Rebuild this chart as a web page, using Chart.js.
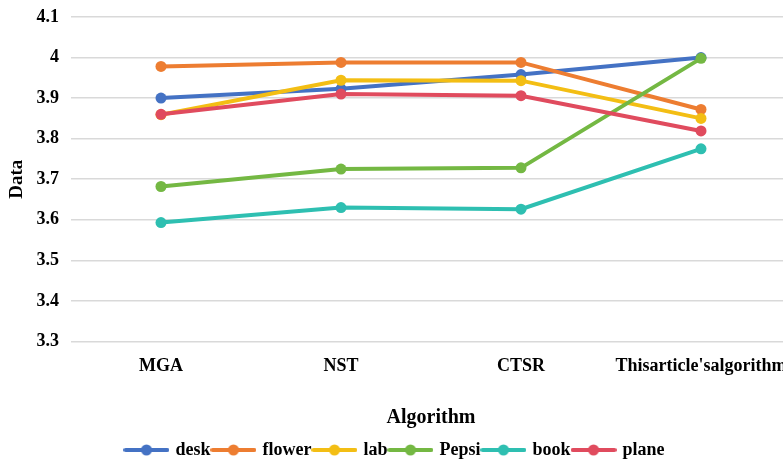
<!DOCTYPE html>
<html>
<head>
<meta charset="utf-8">
<script src="https://cdn.jsdelivr.net/npm/chart.js@4.4.0/dist/chart.umd.min.js"></script>
<style>
  html, body { margin: 0; padding: 0; background: #fff; overflow: hidden; }
  #wrap { width: 800px; height: 461px; }
</style>
</head>
<body>
<div id="wrap"><canvas id="lineChart"></canvas></div>
<script>
// categories and series
const algorithms = ['MGA', 'NST', 'CTSR', "Thisarticle'salgorithm"];
const seriesNames = ['desk', 'flower', 'lab', 'Pepsi', 'book', 'plane'];
const desk   = [3.900, 3.923, 3.958, 4.000];
const flower = [3.978, 3.988, 3.988, 3.872];
const lab    = [3.859, 3.944, 3.943, 3.850];
const pepsi  = [3.682, 3.725, 3.728, 3.998];
const book   = [3.593, 3.630, 3.626, 3.775];
const plane  = [3.860, 3.910, 3.906, 3.819];
const yTicks = [3.3, 3.4, 3.5, 3.6, 3.7, 3.8, 3.9, 4, 4.1];

const colors = ['#4472C4', '#ED7D31', '#F3BE14', '#74B843', '#2EBFB1', '#E04B5E'];
const allValues = [desk, flower, lab, pepsi, book, plane];

// legend marker: a short line with a dot in the middle
function legendMarker(color) {
    const c = document.createElement('canvas');
    c.width = 46;
    c.height = 12;
    const g = c.getContext('2d');
    g.strokeStyle = color;
    g.lineWidth = 4;
    g.lineCap = 'round';
    g.beginPath();
    g.moveTo(2, 6);
    g.lineTo(44, 6);
    g.stroke();
    g.fillStyle = color;
    g.beginPath();
    g.arc(23, 6, 5.5, 0, Math.PI * 2);
    g.fill();
    return c;
}

const datasets = seriesNames.map((name, i) => ({
    label: name,
    data: allValues[i],
    borderColor: colors[i],
    backgroundColor: colors[i],
    borderWidth: 4,
    pointRadius: 5.5,
    pointHoverRadius: 5.5,
    pointBorderWidth: 0,
    pointStyle: 'circle',
    legendMarker: legendMarker(colors[i]),
    order: seriesNames.length - i, // later series on top, like the original
    tension: 0
}));

const font = 'Liberation Serif, Times New Roman, serif';

const config = {
    type: 'line',
    data: {
        labels: algorithms,
        datasets: datasets
    },
    options: {
        responsive: true,
        maintainAspectRatio: false,
        animation: false,
        layout: { padding: { top: 17, left: 0, right: 9, bottom: -8 } },
        scales: {
            x: {
                offset: true,
                grid: { display: false },
                border: { display: false },
                ticks: {
                    autoSkip: false,
                    maxRotation: 0,
                    padding: 6,
                    color: '#000',
                    font: { family: font, size: 18, weight: 'bold' }
                },
                title: {
                    display: true,
                    text: 'Algorithm',
                    color: '#000',
                    padding: { top: 23, bottom: 8 },
                    font: { family: font, size: 20, weight: 'bold' }
                }
            },
            y: {
                min: 3.3,
                max: 4.1,
                afterBuildTicks: (scale) => {
                    scale.ticks = yTicks.map(v => ({ value: v }));
                },
                afterFit: (scale) => {
                    scale.width = 71;
                    scale.paddingTop = 0;
                    scale.paddingBottom = 0;
                },
                grid: { color: '#d9d9d9', lineWidth: 1.5, drawTicks: false },
                border: { display: false },
                ticks: {
                    padding: 12,
                    color: '#000',
                    font: { family: font, size: 18, weight: 'bold' },
                    callback: (v) => String(Math.round(v * 10) / 10)
                },
                title: {
                    display: true,
                    text: 'Data',
                    color: '#000',
                    padding: { top: 6, bottom: 3 },
                    font: { family: font, size: 19, weight: 'bold' }
                }
            }
        },
        plugins: {
            legend: {
                position: 'bottom',
                labels: {
                    usePointStyle: true,
                    pointStyleWidth: 40,
                    padding: 3,
                    color: '#000',
                    font: { family: font, size: 18, weight: 'bold' },
                    generateLabels: (chart) => chart.data.datasets.map((ds, i) => ({
                        text: ds.label,
                        pointStyle: ds.legendMarker,
                        fillStyle: ds.borderColor,
                        strokeStyle: ds.borderColor,
                        lineWidth: 0,
                        fontColor: '#000',
                        datasetIndex: i,
                        hidden: false
                    }))
                }
            },
            tooltip: { enabled: false }
        }
    }
};

const ctx = document.getElementById('lineChart').getContext('2d');
const myChart = new Chart(ctx, config);
</script>
</body>
</html>
